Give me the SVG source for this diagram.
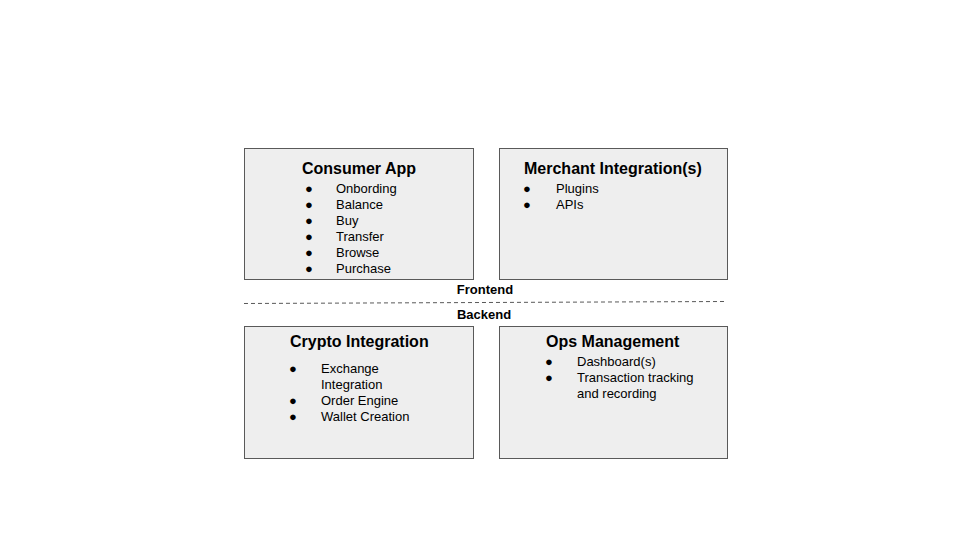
<svg xmlns="http://www.w3.org/2000/svg" width="960" height="540" viewBox="0 0 960 540">
<style>
.box{fill:#eeeeee;stroke:#595959;stroke-width:1}
.t{font-family:"Liberation Sans",Arial,sans-serif;font-weight:bold;font-size:16px;fill:#000}
.i{font-family:"Liberation Sans",Arial,sans-serif;font-size:13px;fill:#000}
.l{font-family:"Liberation Sans",Arial,sans-serif;font-weight:bold;font-size:13px;fill:#000}
.sep{stroke:#595959;stroke-width:1;stroke-dasharray:4,3;fill:none}
</style>
<rect width="960" height="540" fill="#ffffff"/>
<g id="consumer-app">
<rect class="box" x="244.5" y="148.5" width="229" height="131"/>
<text class="t" x="359" y="174" text-anchor="middle">Consumer App</text>
<g class="i">
<text x="305" y="193">●</text><text x="336" y="193">Onbording</text>
<text x="305" y="209">●</text><text x="336" y="209">Balance</text>
<text x="305" y="225">●</text><text x="336" y="225">Buy</text>
<text x="305" y="241">●</text><text x="336" y="241">Transfer</text>
<text x="305" y="257">●</text><text x="336" y="257">Browse</text>
<text x="305" y="273">●</text><text x="336" y="273">Purchase</text>
</g>
</g>
<g id="merchant-integration">
<rect class="box" x="499.5" y="148.5" width="228" height="131"/>
<text class="t" x="524" y="174">Merchant Integration(s)</text>
<g class="i">
<text x="523" y="193">●</text><text x="556" y="193">Plugins</text>
<text x="523" y="209">●</text><text x="556" y="209">APIs</text>
</g>
</g>
<g id="crypto-integration">
<rect class="box" x="244.5" y="326.5" width="229" height="132"/>
<text class="t" x="290" y="347">Crypto Integration</text>
<g class="i">
<text x="289" y="373">●</text><text x="321" y="373">Exchange</text>
<text x="321" y="389">Integration</text>
<text x="289" y="405">●</text><text x="321" y="405">Order Engine</text>
<text x="289" y="421">●</text><text x="321" y="421">Wallet Creation</text>
</g>
</g>
<g id="ops-management">
<rect class="box" x="499.5" y="326.5" width="228" height="132"/>
<text class="t" x="546" y="347">Ops Management</text>
<g class="i">
<text x="545" y="366">●</text><text x="577" y="366">Dashboard(s)</text>
<text x="545" y="382">●</text><text x="577" y="382">Transaction tracking</text>
<text x="577" y="398">and recording</text>
</g>
</g>
<g id="connectors">
<line class="sep" x1="244" y1="303.5" x2="726" y2="301.5"/>
</g>
<g id="labels">
<text class="l" x="485" y="294" text-anchor="middle">Frontend</text>
<text class="l" x="484" y="319" text-anchor="middle">Backend</text>
</g>
</svg>
